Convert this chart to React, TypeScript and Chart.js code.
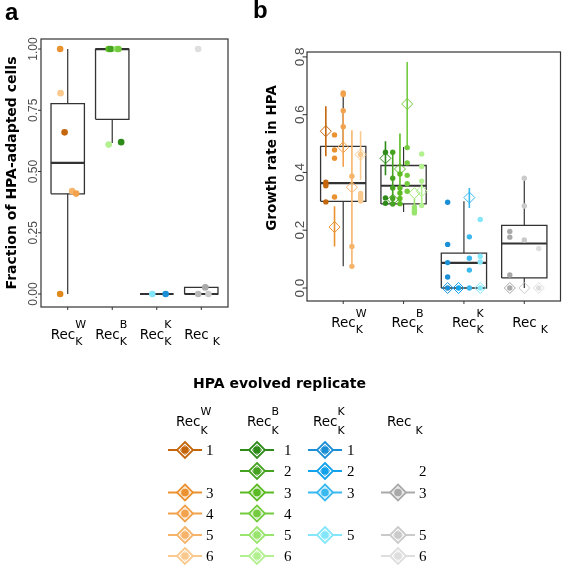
import React, { useEffect, useRef } from "react";
import { Chart, registerables } from "chart.js";
Chart.register(...registerables);

// ---------- categories ----------
const catBase = ["Rec", "Rec", "Rec", "Rec"];
const catSup = ["W", "B", "K", ""];
const catSub = ["K", "K", "K", "K"];

// replicate palettes (index = replicate - 1)
const paletteW = ["#c4660c", "#e0891c", "#eb9230", "#f2a24c", "#f6b46a", "#f9c98e"];
const paletteB = ["#2e8b1a", "#46a221", "#5cbb22", "#74cb40", "#98e46c", "#b2f090"];
const paletteK = ["#1b8fd6", "#12a2ec", "#3ab8f0", "#5cd0f6", "#84e6fa", "#a8eefc"];
const paletteN = ["#909090", "#a0a0a0", "#a9a9a9", "#b8b8b8", "#cacaca", "#dedede"];
const palettes = [paletteW, paletteB, paletteK, paletteN];

// ---------- panel a: fraction of HPA-adapted cells ----------
const fracTicks = [0, 0.25, 0.5, 0.75, 1];
const fracLo = [0, 0.616, 0, 0];
const fracQ1 = [0.409, 0.713, 0, 0];
const fracMed = [0.535, 1, 0, 0];
const fracQ3 = [0.777, 1, 0, 0.027];
const fracHi = [1, 1, 0, 0.027];
const fracCat = [1, 1, 1, 1, 1, 1, 2, 2, 2, 2, 2, 2, 3, 3, 4, 4, 4, 4];
const fracRep = [3, 6, 1, 5, 4, 2, 3, 2, 5, 4, 6, 1, 5, 1, 6, 3, 4, 5];
const fracVal = [1, 0.82, 0.66, 0.42, 0.41, 0, 1, 1, 1, 1, 0.61, 0.62, 0, 0, 1, 0.027, 0, 0];
const fracJit = [-0.17, -0.16, -0.07, 0.1, 0.19, -0.17, -0.08, -0.03, 0.1, 0.14, -0.08, 0.2, -0.1, 0.2, -0.07, 0.09, -0.07, 0.16];

// ---------- panel b: growth rate in HPA ----------
const growthTicks = [0, 0.2, 0.4, 0.6, 0.8];
const growthLo = [0.075, 0.263, 0, 0];
const growthQ1 = [0.3, 0.291, 0, 0.035];
const growthMed = [0.363, 0.354, 0.087, 0.154];
const growthQ3 = [0.49, 0.424, 0.121, 0.217];
const growthHi = [0.673, 0.488, 0.3, 0.383];

const growthReps = [[1, 3, 4, 5, 6], [1, 2, 3, 4, 5, 6], [1, 2, 3, 5], [3, 5, 6]];
const growthMean = [
  [0.543, 0.211, 0.487, 0.349, 0.462],
  [0.449, 0.306, 0.412, 0.637, 0.328, 0.335],
  [0, 0, 0.313, 0],
  [0, 0, 0],
];
const growthErrLo = [
  [0.456, 0.144, 0.42, 0.075, 0.375],
  [0.39, 0.286, 0.289, 0.485, 0.26, 0.294],
  [0, 0, 0.277, 0],
  [0, 0, 0],
];
const growthErrHi = [
  [0.629, 0.283, 0.62, 0.546, 0.543],
  [0.508, 0.473, 0.535, 0.782, 0.308, 0.366],
  [0, 0, 0.346, 0],
  [0, 0, 0],
];
const growthObs = [
  [[0.366, 0.36, 0.354, 0.298], [0.53, 0.478, 0.449, 0.315], [0.675, 0.67, 0.614, 0.558], [0.387, 0.144, 0.075], [0.462, 0.327, 0.318, 0.31, 0.301]],
  [[0.47, 0.312, 0.293], [0.47, 0.38, 0.346, 0.31, 0.291], [0.395, 0.346, 0.329, 0.31, 0.292], [0.486, 0.433, 0.39, 0.361, 0.335], [0.28, 0.273, 0.266, 0.26], [0.464, 0.421, 0.37, 0.286]],
  [[0.297, 0.151, 0.088, 0.038, 0], [0], [0.177, 0.103, 0.062, 0], [0.237, 0.11, 0.09, 0]],
  [[0.196, 0.176, 0.045, 0], [0.38, 0.284, 0.166], [0.137, 0]],
];

// ---------- legend ----------
const legendTitle = "HPA evolved replicate";
const legendReps = [[1, 3, 4, 5, 6], [1, 2, 3, 4, 5, 6], [1, 2, 3, 5], [3, 5, 6]];
const legendNumberOnly = [[], [], [], [2]];

// ---------- helpers ----------
const BOX_HALF = 0.375;
const DODGE = 0.72;

function boxDatasets(lo: number[], q1: number[], med: number[], q3: number[], hi: number[]) {
  const rect: any[] = [];
  const meds: any[] = [];
  const whisk: any[] = [];
  lo.forEach((_, i) => {
    const c = i + 1;
    rect.push({ x: c - BOX_HALF, y: q1[i] }, { x: c + BOX_HALF, y: q1[i] }, { x: c + BOX_HALF, y: q3[i] }, { x: c - BOX_HALF, y: q3[i] }, { x: c - BOX_HALF, y: q1[i] }, { x: c, y: null });
    meds.push({ x: c - BOX_HALF, y: med[i] }, { x: c + BOX_HALF, y: med[i] }, { x: c, y: null });
    whisk.push({ x: c, y: q3[i] }, { x: c, y: hi[i] }, { x: c, y: null }, { x: c, y: lo[i] }, { x: c, y: q1[i] }, { x: c, y: null });
  });
  const base = { type: "line", pointRadius: 0, fill: false, tension: 0, borderColor: "#333333", spanGaps: false, order: 10, borderJoinStyle: "miter" };
  return [
    { ...base, data: rect, borderWidth: 1.3 },
    { ...base, data: meds, borderWidth: 2.2 },
    { ...base, data: whisk, borderWidth: 1.2 },
  ];
}

type PanelOpts = {
  ticks: number[]; digits: number; tickFont: string; tickX: number;
  title: string; titleFont: string; titleX: number; titleY: number;
  recShift: number; recDy: number; supDy: number; subDy: number;
};

function panelPlugin(o: PanelOpts) {
  return {
    id: "panelDecor",
    afterDraw(chart: any) {
      const { ctx, chartArea, scales } = chart;
      const { left, right, top, bottom } = chartArea;
      const xs = scales.x;
      const ys = scales.y;
      ctx.save();
      ctx.strokeStyle = "#333333";
      ctx.lineWidth = 1.2;
      ctx.strokeRect(left, top, right - left, bottom - top);
      ctx.lineWidth = 1;
      ctx.font = o.tickFont;
      ctx.fillStyle = "#4d4d4d";
      ctx.textAlign = "center";
      ctx.textBaseline = "middle";
      o.ticks.forEach((v) => {
        const py = ys.getPixelForValue(v);
        ctx.beginPath();
        ctx.moveTo(left - 3, py);
        ctx.lineTo(left, py);
        ctx.stroke();
        ctx.save();
        ctx.translate(o.tickX, py);
        ctx.rotate(-Math.PI / 2);
        ctx.fillText(v.toFixed(o.digits), 0, 0);
        ctx.restore();
      });
      ctx.save();
      ctx.translate(o.titleX, o.titleY);
      ctx.rotate(-Math.PI / 2);
      ctx.font = o.titleFont;
      ctx.fillStyle = "#000000";
      ctx.fillText(o.title, 0, 0);
      ctx.restore();
      catBase.forEach((base, i) => {
        const px = xs.getPixelForValue(i + 1);
        ctx.strokeStyle = "#333333";
        ctx.beginPath();
        ctx.moveTo(px, bottom);
        ctx.lineTo(px, bottom + 3);
        ctx.stroke();
        ctx.fillStyle = "#000000";
        ctx.textAlign = "left";
        ctx.textBaseline = "alphabetic";
        ctx.font = "13.5px 'DejaVu Sans'";
        const x0 = px + o.recShift;
        ctx.fillText(base, x0, bottom + o.recDy);
        const w = ctx.measureText(base).width;
        ctx.font = "11px 'DejaVu Sans'";
        if (catSup[i]) {
          ctx.fillText(catSup[i], x0 + w, bottom + o.supDy);
          ctx.fillText(catSub[i], x0 + w, bottom + o.subDy);
        } else {
          ctx.fillText(catSub[i], x0 + w + 4, bottom + o.subDy);
        }
      });
      ctx.restore();
    },
  };
}

function baseOptions(yMin: number, yMax: number, yWidth: number, xHeight: number, padTop: number, padRight: number) {
  return {
    animation: false,
    responsive: false,
    maintainAspectRatio: false,
    devicePixelRatio: 1,
    events: [],
    layout: { padding: { top: padTop, right: padRight, left: 0, bottom: 0 } },
    plugins: { legend: { display: false }, tooltip: { enabled: false } },
    scales: {
      x: {
        type: "linear", min: 0.4, max: 4.6,
        ticks: { display: false }, grid: { display: false }, border: { display: false },
        afterFit: (s: any) => { s.height = xHeight; },
      },
      y: {
        type: "linear", min: yMin, max: yMax,
        ticks: { display: false }, grid: { display: false }, border: { display: false },
        afterFit: (s: any) => { s.width = yWidth; },
      },
    },
  };
}

function buildA() {
  const pts = fracVal.map((v, i) => ({ x: fracCat[i] + fracJit[i], y: v }));
  const cols = fracVal.map((_, i) => palettes[fracCat[i] - 1][fracRep[i] - 1]);
  const datasets: any[] = [
    ...boxDatasets(fracLo, fracQ1, fracMed, fracQ3, fracHi),
    {
      type: "scatter", data: pts, pointRadius: 3.3, pointBorderWidth: 0,
      pointBackgroundColor: cols, pointBorderColor: cols, showLine: false, order: 1,
    },
  ];
  return {
    type: "scatter",
    data: { datasets },
    options: baseOptions(-0.053, 1.041, 41, 43, 39, 17),
    plugins: [panelPlugin({
      ticks: fracTicks, digits: 2, tickFont: "12px 'Liberation Sans'", tickX: 33.5,
      title: "Fraction of HPA-adapted cells", titleFont: "bold 14px 'DejaVu Sans'", titleX: 12, titleY: 173,
      recShift: -17, recDy: 32, supDy: 21, subDy: 38,
    })],
  };
}

function buildB() {
  const datasets: any[] = [...boxDatasets(growthLo, growthQ1, growthMed, growthQ3, growthHi)];
  const dots: any[] = [];
  const dotCols: string[] = [];
  const means: any[] = [];
  const meanCols: string[] = [];
  growthReps.forEach((reps, ci) => {
    const n = reps.length;
    reps.forEach((rep, ri) => {
      const x = ci + 1 + (ri - (n - 1) / 2) * (DODGE / n);
      const col = palettes[ci][rep - 1];
      datasets.push({
        type: "line", data: [{ x, y: growthErrLo[ci][ri] }, { x, y: growthErrHi[ci][ri] }],
        borderColor: col, borderWidth: 1.6, pointRadius: 0, fill: false, order: 5,
      });
      growthObs[ci][ri].forEach((v) => { dots.push({ x, y: v }); dotCols.push(col); });
      means.push({ x, y: growthMean[ci][ri] });
      meanCols.push(col);
    });
  });
  datasets.push({
    type: "scatter", data: dots, pointRadius: 2.7, pointBorderWidth: 0,
    pointBackgroundColor: dotCols, pointBorderColor: dotCols, showLine: false, order: 2,
  });
  datasets.push({
    type: "scatter", data: means, pointRadius: 5.5, pointBorderWidth: 1, pointStyle: "rectRot",
    pointBackgroundColor: "rgba(0,0,0,0)", pointBorderColor: meanCols, showLine: false, order: 1,
  });
  return {
    type: "scatter",
    data: { datasets },
    options: baseOptions(-0.045, 0.817, 62, 49, 52, 1),
    plugins: [panelPlugin({
      ticks: growthTicks, digits: 1, tickFont: "13.5px 'Liberation Sans'", tickX: 55,
      title: "Growth rate in HPA", titleFont: "bold 13.5px 'DejaVu Sans'", titleX: 27, titleY: 158,
      recShift: -12, recDy: 26, supDy: 16, subDy: 32,
    })],
  };
}

// legend layout
const legCenterX = [185, 257, 325, 398];
const legNumberX = [206, 284, 347, 419];
const legHeaderX = [176, 247, 313, 387];
const legRowY = [450, 471, 492.5, 513.5, 535, 556];

function Legend() {
  const items: any[] = [];
  legendReps.forEach((reps, ci) => {
    const cx = legCenterX[ci];
    reps.forEach((rep) => {
      const cy = legRowY[rep - 1];
      const col = palettes[ci][rep - 1];
      items.push(
        <g key={`g${ci}-${rep}`}>
          <line x1={cx - 17} y1={cy} x2={cx + 17} y2={cy} stroke={col} strokeWidth={2} />
          <polygon points={`${cx},${cy - 8} ${cx + 8},${cy} ${cx},${cy + 8} ${cx - 8},${cy}`} fill="#ffffff" stroke={col} strokeWidth={1.8} />
          <polygon points={`${cx},${cy - 5} ${cx + 5},${cy} ${cx},${cy + 5} ${cx - 5},${cy}`} fill="none" stroke={col} strokeWidth={0.8} opacity={0.7} />
          <circle cx={cx} cy={cy} r={3.8} fill={col} />
          <text x={legNumberX[ci]} y={cy + 5} fontFamily="'Liberation Serif'" fontSize={15} fill="#000">{rep}</text>
        </g>
      );
    });
    legendNumberOnly[ci].forEach((rep) => {
      items.push(
        <text key={`n${ci}-${rep}`} x={legNumberX[ci]} y={legRowY[rep - 1] + 5} fontFamily="'Liberation Serif'" fontSize={15} fill="#000">{rep}</text>
      );
    });
  });
  const headers = catBase.map((base, i) => {
    const x = legHeaderX[i];
    return (
      <g key={`h${i}`} fontFamily="'DejaVu Sans'" fill="#000">
        <text x={x} y={426} fontSize={13.5}>{base}</text>
        {catSup[i] ? <text x={x + 24.5} y={415} fontSize={11}>{catSup[i]}</text> : null}
        <text x={catSup[i] ? x + 24.5 : x + 28.5} y={434} fontSize={11}>{catSub[i]}</text>
      </g>
    );
  });
  return (
    <svg width={567} height={566} style={{ position: "absolute", left: 0, top: 0, pointerEvents: "none" }}>
      <text x={5} y={20} fontFamily="'Liberation Sans'" fontWeight="bold" fontSize={24} fill="#000">a</text>
      <text x={253} y={18} fontFamily="'Liberation Sans'" fontWeight="bold" fontSize={24} fill="#000">b</text>
      <text x={193} y={388} fontFamily="'DejaVu Sans'" fontWeight="bold" fontSize={14} fill="#000">{legendTitle}</text>
      {headers}
      {items}
    </svg>
  );
}

export default function App() {
  const refA = useRef<HTMLCanvasElement>(null);
  const refB = useRef<HTMLCanvasElement>(null);
  useEffect(() => {
    document.body.style.margin = "0";
    const a = new Chart(refA.current as HTMLCanvasElement, buildA() as any);
    const b = new Chart(refB.current as HTMLCanvasElement, buildB() as any);
    return () => { a.destroy(); b.destroy(); };
  }, []);
  return (
    <div style={{ position: "absolute", left: 0, top: 0, width: 567, height: 566, background: "#ffffff", overflow: "hidden" }}>
      <canvas ref={refA} width={245} height={350} style={{ position: "absolute", left: 0, top: 0, width: 245, height: 350 }} />
      <canvas ref={refB} width={322} height={350} style={{ position: "absolute", left: 245, top: 0, width: 322, height: 350 }} />
      <Legend />
    </div>
  );
}
